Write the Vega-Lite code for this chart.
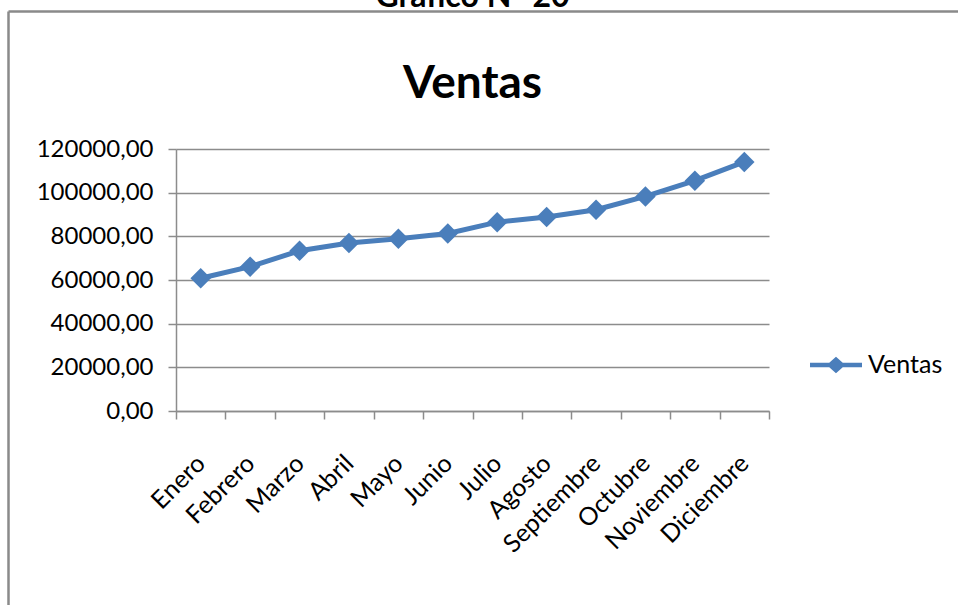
{
  "$schema": "https://vega.github.io/schema/vega-lite/v6.json",
  "width": 593,
  "height": 262,
  "autosize": {"type": "none"},
  "padding": {"left": 176, "top": 149, "right": 189, "bottom": 194},
  "background": "white",
  "title": {
    "text": "Gráfico N° 20",
    "subtitle": "Ventas",
    "anchor": "middle",
    "frame": "group",
    "font": "Lato",
    "fontSize": 32,
    "fontWeight": "bold",
    "color": "#000000",
    "subtitleFont": "Lato",
    "subtitleFontSize": 46,
    "subtitleFontWeight": "bold",
    "subtitleColor": "#000000",
    "subtitlePadding": 48,
    "offset": -97
  },
  "data": {
    "values": [
      {"mes": "Enero", "ventas": 60800, "serie": "Ventas"},
      {"mes": "Febrero", "ventas": 66100, "serie": "Ventas"},
      {"mes": "Marzo", "ventas": 73400, "serie": "Ventas"},
      {"mes": "Abril", "ventas": 76900, "serie": "Ventas"},
      {"mes": "Mayo", "ventas": 78900, "serie": "Ventas"},
      {"mes": "Junio", "ventas": 81300, "serie": "Ventas"},
      {"mes": "Julio", "ventas": 86500, "serie": "Ventas"},
      {"mes": "Agosto", "ventas": 88900, "serie": "Ventas"},
      {"mes": "Septiembre", "ventas": 92200, "serie": "Ventas"},
      {"mes": "Octubre", "ventas": 98300, "serie": "Ventas"},
      {"mes": "Noviembre", "ventas": 105500, "serie": "Ventas"},
      {"mes": "Diciembre", "ventas": 114100, "serie": "Ventas"}
    ]
  },
  "layer": [
    {
      "mark": {
        "type": "line",
        "strokeWidth": 5,
        "point": {"shape": "diamond", "size": 420, "filled": true, "opacity": 1}
      },
      "encoding": {
        "x": {
          "field": "mes",
          "type": "ordinal",
          "sort": null,
          "scale": {"type": "band", "paddingInner": 0, "paddingOuter": 0},
          "axis": {
            "title": null,
            "labelAngle": -45,
            "labelAlign": "right",
            "labelBaseline": "middle",
            "tickBand": "extent",
            "tickSize": 8,
            "tickWidth": 1.5,
            "tickColor": "#8c8c8c",
            "domainColor": "#8c8c8c",
            "domainWidth": 1.5,
            "labelPadding": 40,
            "labelFont": "Lato",
            "labelFontSize": 25,
            "labelColor": "#000000",
            "grid": false
          }
        },
        "y": {
          "field": "ventas",
          "type": "quantitative",
          "scale": {"domain": [0, 120000], "nice": false},
          "axis": {
            "title": null,
            "values": [0, 20000, 40000, 60000, 80000, 100000, 120000],
            "labelExpr": "replace(format(datum.value, '.2f'), '.', ',')",
            "labelFont": "Lato",
            "labelFontSize": 24,
            "labelColor": "#000000",
            "labelPadding": 15,
            "tickSize": 8,
            "tickWidth": 1.5,
            "tickColor": "#8c8c8c",
            "domainColor": "#8c8c8c",
            "domainWidth": 1.5,
            "grid": true,
            "gridColor": "#8c8c8c",
            "gridWidth": 1.5
          }
        },
        "color": {
          "field": "serie",
          "type": "nominal",
          "scale": {"range": ["#4a7ebb"]},
          "legend": {
            "title": null,
            "orient": "none",
            "legendX": 634,
            "legendY": 190,
            "padding": 0,
            "labelFont": "Lato",
            "labelFontSize": 25,
            "labelColor": "#000000",
            "labelOffset": 6,
            "symbolType": "M-1,-0.09L-0.26,-0.09L0,-0.32L0.26,-0.09L1,-0.09L1,0.09L0.26,0.09L0,0.32L-0.26,0.09L-1,0.09Z",
            "symbolSize": 2704,
            "symbolStrokeWidth": 0,
            "encode": {
              "symbols": {
                "update": {
                  "fill": {"value": "#4a7ebb"},
                  "stroke": {"value": "transparent"}
                }
              }
            }
          }
        }
      }
    },
    {
      "mark": {"type": "point", "opacity": 0},
      "encoding": {
        "x": {
          "field": "ventas",
          "type": "quantitative",
          "scale": {"range": [-168, 782]},
          "axis": {
            "orient": "top",
            "offset": 138,
            "title": null,
            "labels": false,
            "ticks": false,
            "grid": false,
            "domainColor": "#8a8a8a",
            "domainWidth": 2.5
          }
        },
        "y": {
          "field": "ventas",
          "type": "quantitative",
          "scale": {"range": [456, -138]},
          "axis": {
            "orient": "left",
            "offset": 168,
            "title": null,
            "labels": false,
            "ticks": false,
            "grid": false,
            "domainColor": "#8a8a8a",
            "domainWidth": 2.5
          }
        }
      }
    }
  ],
  "resolve": {"scale": {"x": "independent", "y": "independent"}},
  "config": {"view": {"stroke": null}}
}
